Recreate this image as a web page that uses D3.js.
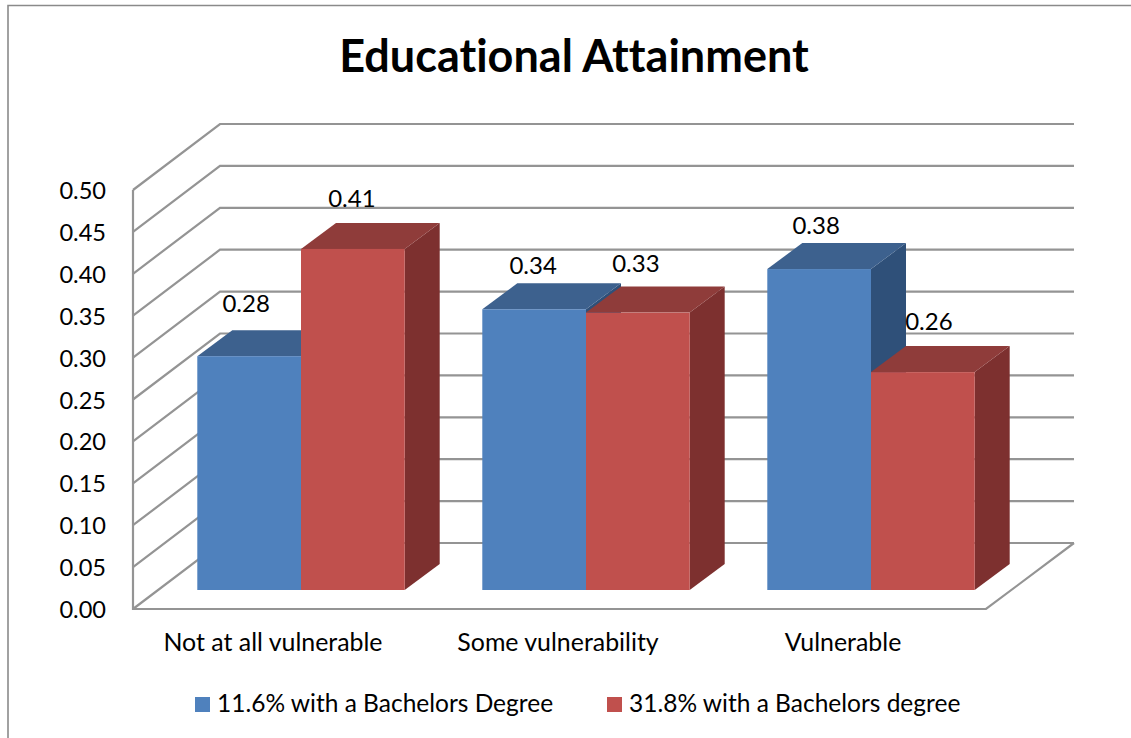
<!DOCTYPE html>
<html><head><meta charset="utf-8">
<style>html,body{margin:0;padding:0;background:#fff}svg{display:block}text{font-family:Lato,"Open Sans",sans-serif;fill:#000;font-variant-ligatures:none;font-feature-settings:"liga" 0}</style>
<script src="https://cdn.jsdelivr.net/npm/d3@7"></script></head><body>
<script>
const categories = ["Not at all vulnerable","Some vulnerability","Vulnerable"];
const seriesNames = ["11.6% with a Bachelors Degree","31.8% with a Bachelors degree"];
const seriesA = [0.279,0.335,0.383];
const seriesB = [0.407,0.331,0.26];
const yTicks = [0,0.05,0.1,0.15,0.2,0.25,0.3,0.35,0.4,0.45,0.5];
const colorsFront = ["#4F81BD","#C0504D"];
const colorsTop = ["#3D618E","#8F3C3A"];
const colorsSide = ["#2F5079","#7D302F"];

const W=1131,H=738;
const svg=d3.select("body").append("svg").attr("width",W).attr("height",H);
const frontL=133,frontR=986,floorY=609,topY=190,depthX=87,depthY=66;
const y=d3.scaleLinear().domain([0,0.5]).range([floorY,topY]);
const x=d3.scaleBand().domain(categories).range([132.5,987.5]);
const grey="#949494";

// chart frame
svg.append("path").attr("d",`M8,738V5.5H${W}`).attr("fill","none").attr("stroke","#8a8a8a").attr("stroke-width",1.6);

svg.append("text").attr("x",574).attr("y",72).attr("text-anchor","middle")
  .attr("font-size",45).attr("font-weight",700).text("Educational Attainment");

// walls and gridlines
const g=svg.append("g").attr("fill","none").attr("stroke",grey).attr("stroke-width",2.2);
yTicks.forEach(t=>{
  g.append("path").attr("d",`M${frontL},${y(t)}L${frontL+depthX},${y(t)-depthY}H1074`);
});
g.append("path").attr("d",`M${frontL},${y(0.5)}V${floorY}H${frontR}L1074,${floorY-depthY}`);

// y axis labels
svg.selectAll("text.yt").data(yTicks).join("text").attr("class","yt")
  .attr("x",106).attr("y",d=>y(d)+9).attr("text-anchor","end").attr("font-size",23.6)
  .text(d=>d.toFixed(2));

// bars
const base=590, bx=26, dx=35, dy=26, bw=103.7;
const h0=d3.scaleLinear().domain([0,1]).range([0,838]);
function bar(cat,val,si){
  const left=x(cat)+x.bandwidth()/2+bx-(si===0?bw:0), right=left+bw, top=base-h0(val);
  const b=svg.append("g");
  b.append("path").attr("fill",colorsSide[si]).attr("d",`M${right},${top}L${right+dx},${top-dy}V${base-dy}L${right},${base}Z`);
  b.append("path").attr("fill",colorsTop[si]).attr("d",`M${left},${top}L${left+dx},${top-dy}H${right+dx}L${right},${top}Z`);
  b.append("rect").attr("fill",colorsFront[si]).attr("x",left).attr("y",top).attr("width",bw).attr("height",base-top);
  return {left,top};
}
const labelNudge=[[-3,-44],[-1,-42],[-1,-35],[-2,-41],[-3,-35],[6,-42]];
const labelPos=[];
categories.forEach((c,i)=>{
  [seriesA[i],seriesB[i]].forEach((v,si)=>{
    const p=bar(c,v,si), n=labelNudge[i*2+si];
    labelPos.push({x:p.left+bw/2+n[0],y:p.top+n[1],t:v.toFixed(2)});
  });
});
svg.selectAll("text.dl").data(labelPos).join("text").attr("class","dl")
  .attr("x",d=>d.x).attr("y",d=>d.y).attr("text-anchor","middle").attr("font-size",24).text(d=>d.t);

// category labels
svg.selectAll("text.cat").data(categories).join("text").attr("class","cat")
  .attr("x",d=>x(d)+x.bandwidth()/2-2).attr("y",651).attr("text-anchor","middle").attr("font-size",24.9).text(d=>d);

// legend
const lx=[195,607];
seriesNames.forEach((n,i)=>{
  svg.append("rect").attr("x",lx[i]).attr("y",697).attr("width",15).attr("height",15).attr("fill",colorsFront[i]);
  svg.append("text").attr("x",lx[i]+22).attr("y",712).attr("font-size",24.5).text(n);
});
</script></body></html>
